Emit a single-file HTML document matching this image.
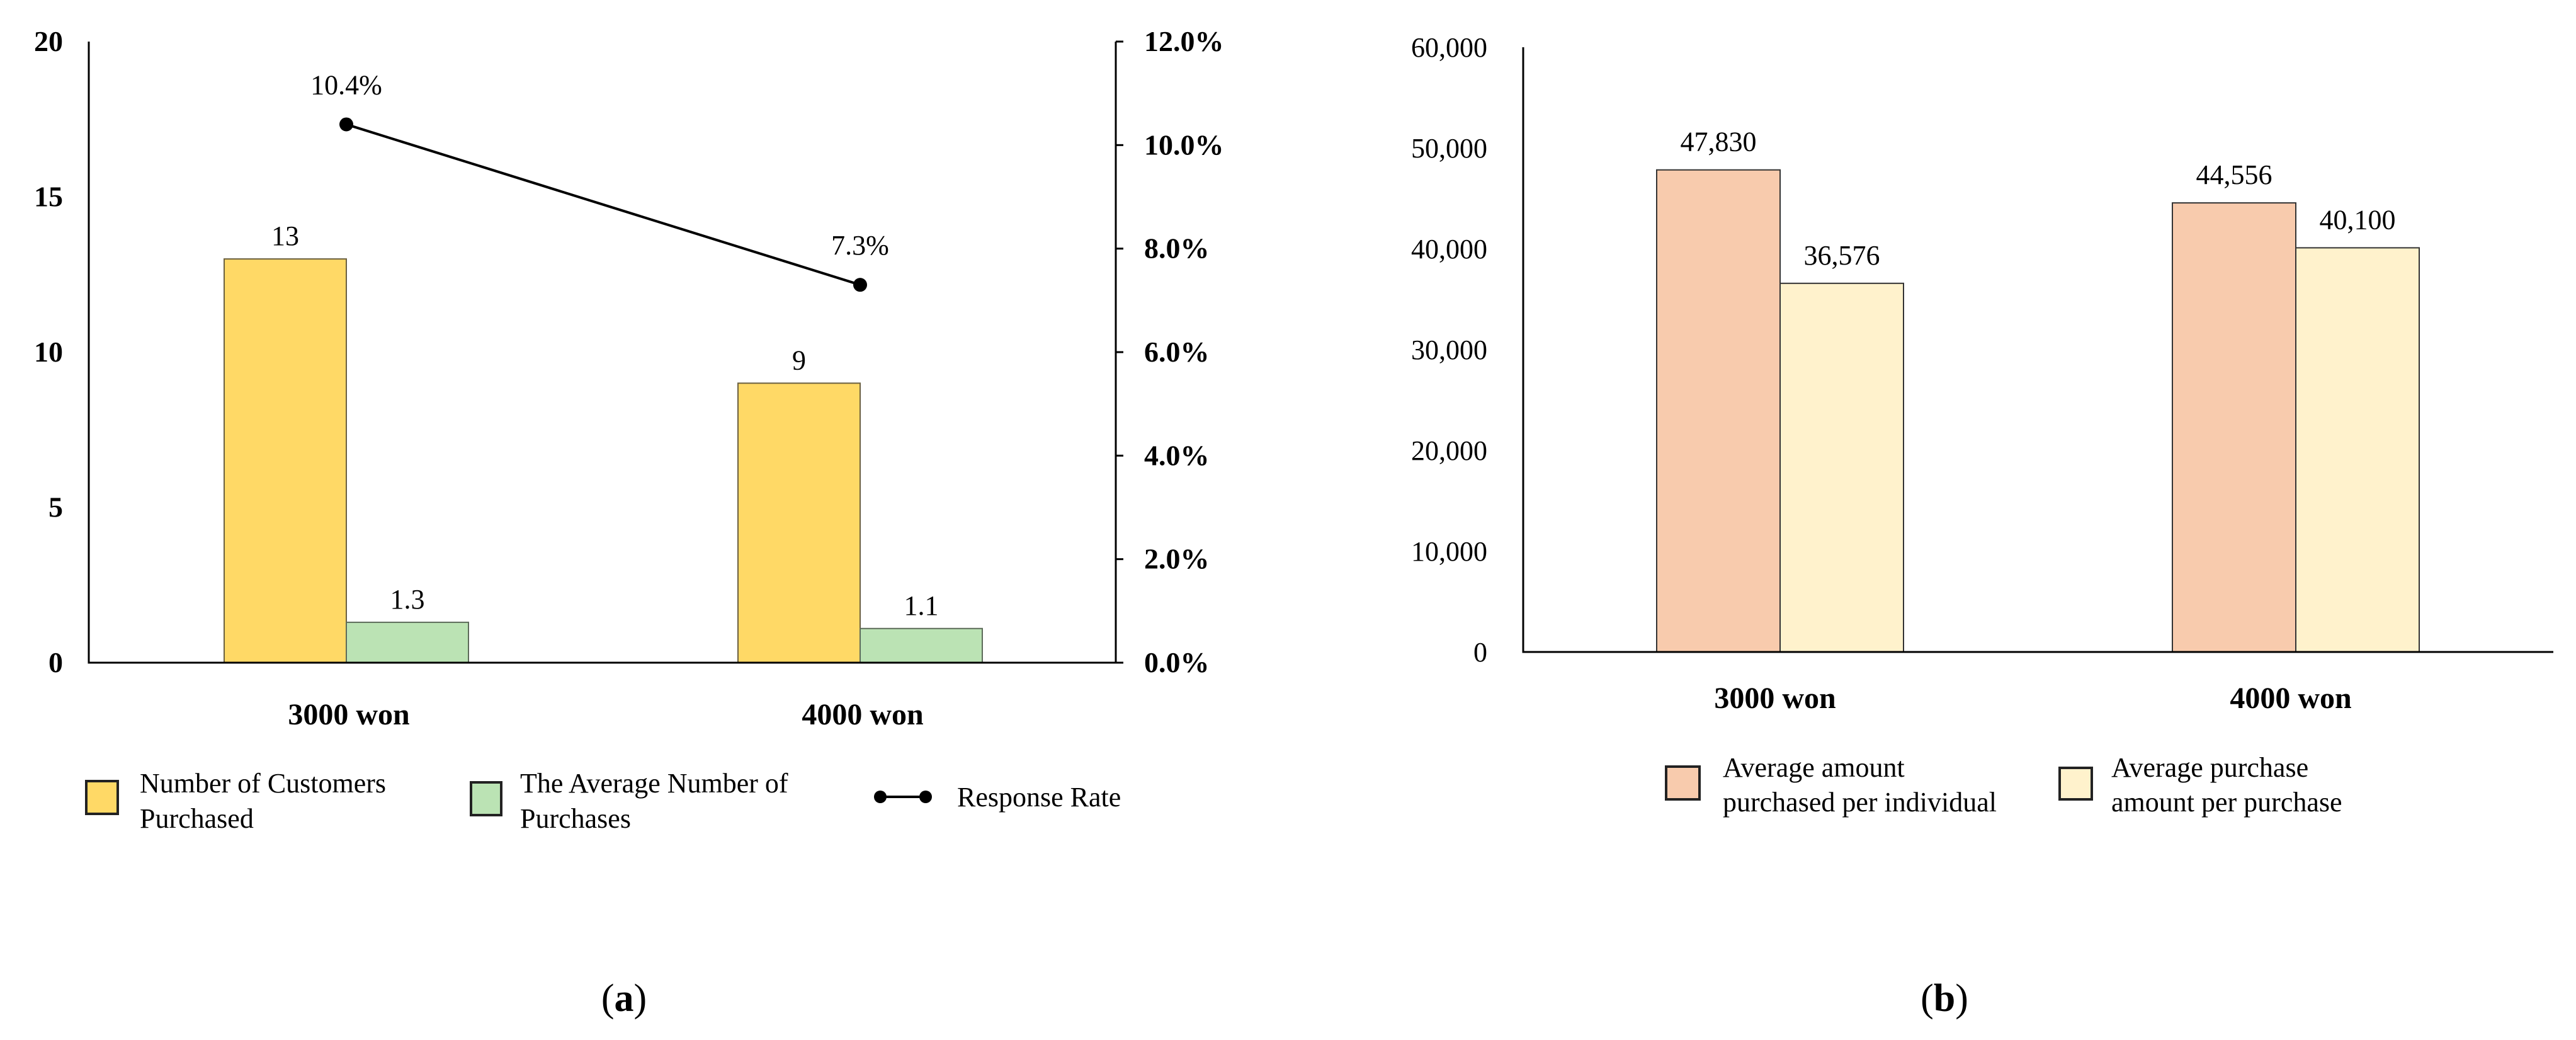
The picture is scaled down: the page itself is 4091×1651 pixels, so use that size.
<!DOCTYPE html>
<html><head><meta charset="utf-8"><style>
html,body{margin:0;padding:0;background:#fff;}
svg{display:block;font-family:"Liberation Serif",serif;}
</style></head><body>
<svg id="c" width="4091" height="1651" viewBox="0 0 4091 1651" xmlns="http://www.w3.org/2000/svg"></svg>
<script>
const categories = ["3000 won", "4000 won"];
const customers = [13, 9];
const avgPurchases = [1.3, 1.1];
const responseRate = [10.4, 7.3];
const leftTicks = [0, 5, 10, 15, 20];
const rightTicks = [0, 2, 4, 6, 8, 10, 12];
const amountPerIndividual = [47830, 44556];
const amountPerPurchase = [36576, 40100];
const bTicks = [0, 10000, 20000, 30000, 40000, 50000, 60000];

const svg = document.getElementById('c');
const NS = "http://www.w3.org/2000/svg";
function el(tag, attrs, text) {
  const e = document.createElementNS(NS, tag);
  for (const k in attrs) e.setAttribute(k, attrs[k]);
  if (text !== undefined) e.textContent = text;
  svg.appendChild(e);
  return e;
}
const fmt = v => v.toLocaleString('en-US');

// ---------- Chart (a) ----------
const aX0 = 141, aX1 = 1772, aTop = 66, aBot = 1052;
const yL = v => aBot - v / 20 * (aBot - aTop);
const yR = v => aBot - v / 12 * (aBot - aTop);
const aGroupCenters = [550, 1366];
const aBarW = 194;

leftTicks.forEach(t => {
  const e = el('text', {x: 100, y: yL(t) + 15, 'text-anchor': 'end', 'font-size': 46, 'font-weight': 'bold'}, String(t));
  
  
});
rightTicks.forEach(t => {
  const e = el('text', {x: 1817, y: yR(t) + 15, 'text-anchor': 'start', 'font-size': 46, 'font-weight': 'bold'}, t.toFixed(1) + '%');
  
  
  const k = el('line', {x1: aX1, x2: aX1 + 12, y1: yR(t), y2: yR(t), stroke: '#000', 'stroke-width': 3});
  
  
});

categories.forEach((c, i) => {
  const cx = aGroupCenters[i];
  const b1 = el('rect', {x: cx - aBarW, y: yL(customers[i]), width: aBarW, height: aBot - yL(customers[i]), fill: '#FFD966', stroke: '#6b6040', 'stroke-width': 2});
  
  
  const b2 = el('rect', {x: cx, y: yL(avgPurchases[i]), width: aBarW, height: aBot - yL(avgPurchases[i]), fill: '#BBE3B4', stroke: '#5d6b5a', 'stroke-width': 2});
  
  
  const l1 = el('text', {x: cx - aBarW / 2, y: yL(customers[i]) - 22, 'text-anchor': 'middle', 'font-size': 44}, String(customers[i]));
  
  
  const l2 = el('text', {x: cx + aBarW / 2, y: yL(avgPurchases[i]) - 22, 'text-anchor': 'middle', 'font-size': 44}, avgPurchases[i].toFixed(1));
  
  
  const cl = el('text', {x: cx + 4, y: 1150, 'text-anchor': 'middle', 'font-size': 48, 'font-weight': 'bold'}, c);
  
  
});

const axA = el('path', {d: `M${aX0} ${aTop} V${aBot} H${aX1} M${aX1} ${aTop} V${aBot}`, stroke: '#000', 'stroke-width': 3, fill: 'none'});



const pts = responseRate.map((v, i) => [aGroupCenters[i], yR(v)]);
const ln = el('polyline', {points: pts.map(p => p.join(',')).join(' '), stroke: '#000', 'stroke-width': 4, fill: 'none'});


pts.forEach((p, i) => {
  const d = el('circle', {cx: p[0], cy: p[1], r: 11, fill: '#000'});
  
  
  const t = el('text', {x: p[0], y: p[1] - 48, 'text-anchor': 'middle', 'font-size': 44}, responseRate[i].toFixed(1) + '%');
  
  
});

// legend (a)
let e;
e = el('rect', {x: 137, y: 1240, width: 50, height: 52, fill: '#FFD966', stroke: '#222', 'stroke-width': 4});
 
e = el('text', {x: 222, y: 1258, 'font-size': 44}, 'Number of Customers');
 
e = el('text', {x: 222, y: 1314, 'font-size': 44}, 'Purchased');
 
e = el('rect', {x: 748, y: 1242, width: 48, height: 52, fill: '#BBE3B4', stroke: '#222', 'stroke-width': 4});
 
e = el('text', {x: 826, y: 1258, 'font-size': 44}, 'The Average Number of');
 
e = el('text', {x: 826, y: 1314, 'font-size': 44}, 'Purchases');
 
e = el('line', {x1: 1398, x2: 1470, y1: 1265, y2: 1265, stroke: '#000', 'stroke-width': 4});
 
e = el('circle', {cx: 1398, cy: 1265, r: 10, fill: '#000'});
 
e = el('circle', {cx: 1470, cy: 1265, r: 10, fill: '#000'});
 
e = el('text', {x: 1520, y: 1280, 'font-size': 44}, 'Response Rate');
 

e = el('text', {x: 991, y: 1605, 'text-anchor': 'middle', 'font-size': 62}, '');
 
e.innerHTML = '(<tspan font-weight="bold">a</tspan>)';

// ---------- Chart (b) ----------
const bX0 = 2419, bX1 = 4055, bTop = 75, bBot = 1035;
const yB = v => bBot - v / 60000 * (bBot - bTop);
const bGroupCenters = [2827, 3646];
const bBarW = 196;

bTicks.forEach(t => {
  const e = el('text', {x: 2362, y: yB(t) + 15, 'text-anchor': 'end', 'font-size': 44}, fmt(t));
  
  
});
categories.forEach((c, i) => {
  const cx = bGroupCenters[i];
  const b1 = el('rect', {x: cx - bBarW, y: yB(amountPerIndividual[i]), width: bBarW, height: bBot - yB(amountPerIndividual[i]), fill: '#F8CBAD', stroke: '#333', 'stroke-width': 2});
  
  
  const b2 = el('rect', {x: cx, y: yB(amountPerPurchase[i]), width: bBarW, height: bBot - yB(amountPerPurchase[i]), fill: '#FFF2CC', stroke: '#333', 'stroke-width': 2});
  
  
  const l1 = el('text', {x: cx - bBarW / 2, y: yB(amountPerIndividual[i]) - 30, 'text-anchor': 'middle', 'font-size': 44}, fmt(amountPerIndividual[i]));
  
  
  const l2 = el('text', {x: cx + bBarW / 2, y: yB(amountPerPurchase[i]) - 30, 'text-anchor': 'middle', 'font-size': 44}, fmt(amountPerPurchase[i]));
  
  
  const cl = el('text', {x: cx - 8, y: 1124, 'text-anchor': 'middle', 'font-size': 48, 'font-weight': 'bold'}, c);
  
  
});
e = el('path', {d: `M${bX0} ${bTop} V${bBot} H${bX1}`, stroke: '#000', 'stroke-width': 3, fill: 'none'});
 

e = el('rect', {x: 2646, y: 1217, width: 53, height: 52, fill: '#F8CBAD', stroke: '#222', 'stroke-width': 4});
 
e = el('text', {x: 2736, y: 1233, 'font-size': 44}, 'Average amount');
 
e = el('text', {x: 2736, y: 1288, 'font-size': 44}, 'purchased per individual');
 
e = el('rect', {x: 3271, y: 1219, width: 51, height: 50, fill: '#FFF2CC', stroke: '#222', 'stroke-width': 4});
 
e = el('text', {x: 3353, y: 1233, 'font-size': 44}, 'Average purchase');
 
e = el('text', {x: 3353, y: 1288, 'font-size': 44}, 'amount per purchase');
 

e = el('text', {x: 3088, y: 1605, 'text-anchor': 'middle', 'font-size': 62}, '');
 
e.innerHTML = '(<tspan font-weight="bold">b</tspan>)';
</script>
</body></html>
